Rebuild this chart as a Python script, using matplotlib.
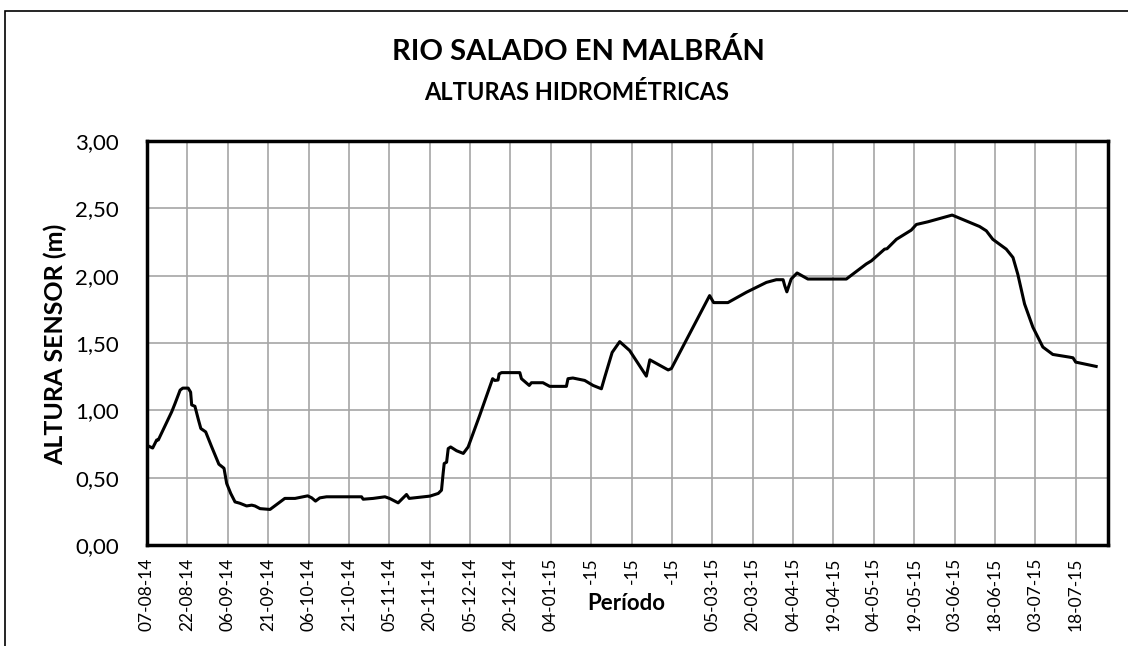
import numpy as np
import matplotlib
matplotlib.use('Agg')
import matplotlib.pyplot as plt
from matplotlib.patches import Rectangle
from matplotlib.ticker import FuncFormatter

plt.rcParams['font.family'] = ['Lato', 'DejaVu Sans']

# Days counted from 07-08-14 and water height (m)
dias = [0, 2.1, 3.6, 4.2, 9.2, 10.4, 12.3, 13.3, 15.3, 16.2, 16.6, 17.8,
        19.1, 20.0, 21.8, 24.0, 26.7, 28.6, 29.6, 31.1, 32.7, 34.5, 37.0,
        38.9, 40.1, 42.0, 45.7, 51.2, 55.0, 59.7, 61.2, 62.6, 64.2, 66.7,
        79.7, 80.3, 84.0, 88.4, 90.2, 93.3, 96.4, 97.4, 105.1, 108.2, 109.4,
        110.0, 110.4, 111.3, 111.9, 112.8, 115.0, 117.5, 119.3, 123.6, 128.4,
        129.2, 130.4, 130.8, 131.7, 138.5, 139.1, 142.0, 142.8, 147.1, 149.6,
        155.8, 156.4, 158.2, 162.6, 165.7, 168.8, 170.1, 172.8, 175.6, 179.3,
        185.5, 186.8, 193.6, 194.8, 209.0, 210.5, 215.8, 222.7, 230.1, 233.8,
        236.3, 236.9, 237.7, 239.3, 241.5, 245.5, 259.8, 267.2, 269.1, 274.0,
        274.9, 278.4, 283.9, 285.8, 290.1, 299.1, 309.3, 311.8, 314.2, 319.2,
        321.7, 323.5, 326.0, 329.1, 332.8, 336.5, 342.7, 344.0, 345.0, 352.6]
altura = [0.74, 0.72, 0.78, 0.78, 0.99, 1.05, 1.15, 1.165, 1.165, 1.135,
          1.04, 1.03, 0.93, 0.865, 0.84, 0.73, 0.60, 0.57, 0.457, 0.383,
          0.32, 0.31, 0.29, 0.296, 0.29, 0.27, 0.264, 0.346, 0.346, 0.365,
          0.35, 0.326, 0.35, 0.358, 0.358, 0.34, 0.346, 0.358, 0.345, 0.313,
          0.375, 0.346, 0.363, 0.383, 0.407, 0.53, 0.605, 0.615, 0.716, 0.728,
          0.70, 0.68, 0.728, 0.963, 1.235, 1.222, 1.225, 1.27, 1.28, 1.28,
          1.235, 1.185, 1.205, 1.205, 1.178, 1.178, 1.235, 1.24, 1.222, 1.185,
          1.16, 1.25, 1.43, 1.51, 1.444, 1.254, 1.375, 1.30, 1.31, 1.852,
          1.80, 1.80, 1.877, 1.95, 1.97, 1.97, 1.926, 1.88, 1.975, 2.02,
          1.975, 1.975, 2.087, 2.11, 2.197, 2.20, 2.27, 2.338, 2.38, 2.40,
          2.45, 2.365, 2.333, 2.27, 2.197, 2.135, 2.01, 1.79, 1.617, 1.47,
          1.415, 1.395, 1.39, 1.358, 1.326]

etiquetas = ['07-08-14', '22-08-14', '06-09-14', '21-09-14', '06-10-14',
             '21-10-14', '05-11-14', '20-11-14', '05-12-14', '20-12-14',
             '04-01-15', '-15', '-15', '-15', '05-03-15', '20-03-15',
             '04-04-15', '19-04-15', '04-05-15', '19-05-15', '03-06-15',
             '18-06-15', '03-07-15', '18-07-15']
paso = 15  # days between date labels
dia_fin = 357

fig = plt.figure(figsize=(11.28, 6.46), dpi=100)
ax = fig.add_axes([147 / 1128, 1 - 545 / 646, 961 / 1128, 404 / 646])

ax.plot(dias, altura, color='black', lw=2.2, solid_joinstyle='round')

ax.set_xlim(0, dia_fin)
ax.set_ylim(0, 3)
ax.set_xticks(np.arange(len(etiquetas)) * paso)
ax.set_xticklabels(etiquetas, rotation=90, fontsize=12.5)
ax.set_yticks(np.arange(0, 3.01, 0.5))
ax.yaxis.set_major_formatter(FuncFormatter(lambda v, p: '{0:.2f}'.format(v).replace('.', ',')))
ax.tick_params(axis='y', labelsize=16, length=0, pad=20)
ax.tick_params(axis='x', length=0, pad=9)
ax.grid(True, color='#a6a6a6', lw=1.2)
ax.set_axisbelow(True)
for s in ax.spines.values():
    s.set_linewidth(2.5)
    s.set_color('black')

fig.text(55 / 1128, 1 - 344 / 646, 'ALTURA SENSOR (m)', fontsize=18,
         fontweight='bold', rotation=90, ha='center', va='center')
fig.text(626 / 1128, 1 - 603 / 646, 'Período', fontsize=16, fontweight='bold',
         ha='center', va='center')

fig.text(578 / 1128, 1 - 52 / 646, 'RIO SALADO EN MALBRÁN', fontsize=21,
         fontweight='bold', ha='center', va='center')
fig.text(577 / 1128, 1 - 92 / 646, 'ALTURAS HIDROMÉTRICAS', fontsize=17,
         fontweight='bold', ha='center', va='center')

# Outer chart frame
fig.patches.append(Rectangle((5 / 1128, -0.01), 1.2, 1 - 11 / 646 + 0.01,
                             transform=fig.transFigure, fill=False,
                             edgecolor='black', lw=1.2))

plt.savefig('out.png', dpi=100)
